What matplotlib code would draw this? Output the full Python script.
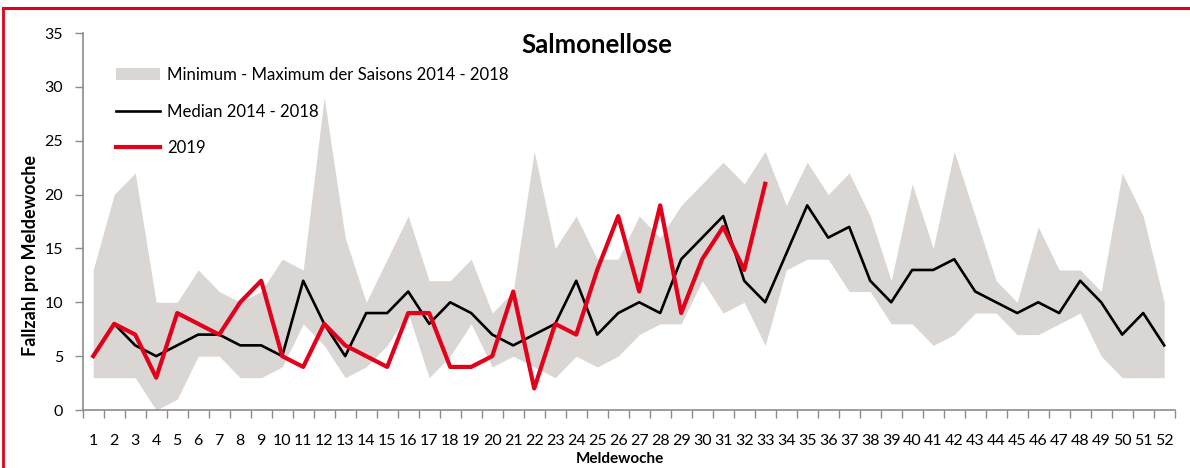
import matplotlib
matplotlib.use("Agg")
import matplotlib.pyplot as plt
from matplotlib.patches import Patch
from matplotlib.lines import Line2D

plt.rcParams['font.family'] = ['Lato', 'DejaVu Sans']

weeks = list(range(1, 53))
band_max = [13, 20, 22, 10, 10, 13, 11, 10, 11, 14, 13, 29, 16, 10, 14, 18, 12, 12, 14, 9,
            11, 24, 15, 18, 14, 14, 18, 16, 19, 21, 23, 21, 24, 19, 23, 20, 22, 18, 12, 21,
            15, 24, 18, 12, 10, 17, 13, 13, 11, 22, 18, 10]
band_min = [3, 3, 3, 0, 1, 5, 5, 3, 3, 4, 8, 6, 3, 4, 6, 9, 3, 5, 8, 4,
            5, 4, 3, 5, 4, 5, 7, 8, 8, 12, 9, 10, 6, 13, 14, 14, 11, 11, 8, 8,
            6, 7, 9, 9, 7, 7, 8, 9, 5, 3, 3, 3]
median = [5, 8, 6, 5, 6, 7, 7, 6, 6, 5, 12, 8, 5, 9, 9, 11, 8, 10, 9, 7,
          6, 7, 8, 12, 7, 9, 10, 9, 14, 16, 18, 12, 10, 14.5, 19, 16, 17, 12, 10, 13,
          13, 14, 11, 10, 9, 10, 9, 12, 10, 7, 9, 6]
weeks_2019 = list(range(1, 34))
cases_2019 = [5, 8, 7, 3, 9, 8, 7, 10, 12, 5, 4, 8, 6, 5, 4, 9, 9, 4, 4, 5,
              11, 2, 8, 7, 13, 18, 11, 19, 9, 14, 17, 13, 21]
yticks = [0, 5, 10, 15, 20, 25, 30, 35]

title = "Salmonellose"
lbl_band = "Minimum - Maximum der Saisons 2014 - 2018"
lbl_median = "Median 2014 - 2018"
lbl_2019 = "2019"

RED = "#E2001A"
GRAY = "#D9D6D4"
AX = "#8C8C8C"

fig = plt.figure(figsize=(11.9, 4.68), dpi=100)
ax = fig.add_axes([82.7/1190, 1-410/468, (1174.7-82.7)/1190, (410-33)/468])

ax.fill_between(weeks, band_min, band_max, color=GRAY, linewidth=0, zorder=1)
ax.plot(weeks, median, color="black", linewidth=1.9, zorder=2)
ax.plot(weeks_2019, cases_2019, color=RED, linewidth=3.0, zorder=3)

ax.set_xlim(0.5, 52.5)
ax.set_ylim(0, 35)
ax.set_yticks(yticks)
ax.set_xticks([w + 0.5 for w in range(0, 53)], minor=False)
ax.set_xticklabels([])
ax.set_xticks(weeks, minor=True)
ax.set_xticklabels([str(w) for w in weeks], minor=True)
ax.tick_params(axis='x', which='major', direction='out', length=6, color=AX, width=1)
ax.tick_params(axis='x', which='minor', length=0, pad=17, labelsize=11.5)
ax.tick_params(axis='y', direction='out', length=6, color=AX, width=1, labelsize=11.5, pad=8)

for s in ['top', 'right']:
    ax.spines[s].set_visible(False)
for s in ['left', 'bottom']:
    ax.spines[s].set_color(AX)
    ax.spines[s].set_linewidth(1.2)

ax.set_ylabel("Fallzahl pro Meldewoche", fontsize=13, fontweight='bold', va='center')
ax.yaxis.set_label_coords(-(82.7-31)/1092, (410-255)/377)
ax.set_xlabel("Meldewoche", fontsize=11, fontweight='bold', va='center')
ax.xaxis.set_label_coords((620-82.7)/1092, -(459-410)/377)

fig.text(597/1190, 1-45/468, title, fontsize=18.5, fontweight='bold', ha='center', va='center')

handles = [Patch(facecolor=GRAY, edgecolor='none'),
           Line2D([], [], color='black', linewidth=1.9),
           Line2D([], [], color=RED, linewidth=3.0)]
leg = ax.legend(handles, [lbl_band, lbl_median, lbl_2019], loc='upper left',
                bbox_to_anchor=((116-82.7)/1092, (410-67)/377), borderaxespad=0, borderpad=0,
                frameon=False, fontsize=12.1, handlelength=2.6, handletextpad=0.45,
                labelspacing=1.22)

fig.add_artist(Line2D([3/1190, 3/1190], [0, 1-8/468], transform=fig.transFigure,
                      color=RED, linewidth=2))
fig.add_artist(Line2D([3/1190, 1], [1-8/468, 1-8/468], transform=fig.transFigure,
                      color=RED, linewidth=2.2))

fig.savefig("out.png", dpi=100)
